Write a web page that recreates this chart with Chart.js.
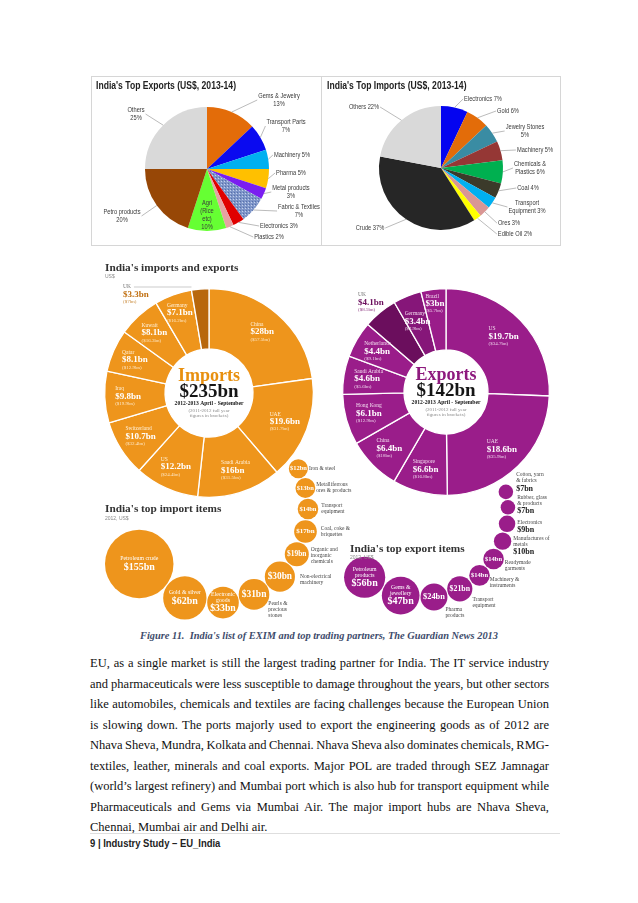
<!DOCTYPE html>
<html>
<head>
<meta charset="utf-8">
<script src="https://cdn.jsdelivr.net/npm/chart.js@4.4.0/dist/chart.umd.min.js"></script>
<style>
body { margin: 0; background: #fff; }
#page { position: relative; width: 638px; height: 903px; overflow: hidden; background: #fff; }
canvas { position: absolute; }
.box { position: absolute; border: 1px solid #d6d6d6; box-sizing: border-box; }
.t { position: absolute; white-space: nowrap; line-height: 1; transform: translateY(-50%); z-index: 5; }
.n { transform-origin: 0 50%; transform: translateY(-50%) scaleX(0.86); }
.ptitle { font: bold 10px "Liberation Sans", sans-serif; color: #222; }
.gtitle { font: bold 11.3px "Liberation Serif", "DejaVu Serif", serif; color: #333; }
.gsub { font: 5px "Liberation Sans", sans-serif; color: #888; }
#caption { left: 0; width: 638px; text-align: center; top: 635px; font: italic bold 10.4px "Liberation Serif", serif; color: #3e4c6c; }
#para { position: absolute; left: 90px; top: 653px; width: 459px; font: 12.5px/20.5px "Liberation Serif", serif; color: #111; word-spacing: -1.5px; }
#para div { white-space: nowrap; }
#para .j { text-align: justify; text-align-last: justify; white-space: normal; }
#footline { position: absolute; left: 90px; top: 833px; width: 470px; height: 1px; background: #dedede; }
#footer { left: 90px; top: 843px; font: bold 11px "Liberation Sans", sans-serif; color: #222; }
</style>
</head>
<body>
<div id="page">
  <div class="box" style="left:91px;top:76px;width:231px;height:170px"></div>
  <div class="box" style="left:321px;top:76px;width:240px;height:170px"></div>
  <canvas id="expPie" width="229" height="169" style="left:92px;top:76px"></canvas>
  <canvas id="impPie" width="239" height="169" style="left:321px;top:76px"></canvas>
  <div class="t n ptitle" style="left:96px;top:85px">India's Top Exports (US$, 2013-14)</div>
  <div class="t n ptitle" style="left:327px;top:85px">India's Top Imports (US$, 2013-14)</div>

  <canvas id="impDonut" width="470" height="370" style="left:95px;top:255px"></canvas>
  <canvas id="expDonut" width="470" height="370" style="left:95px;top:255px"></canvas>
  <canvas id="items" width="470" height="370" style="left:95px;top:255px"></canvas>
  <div class="t gtitle" style="left:105px;top:267px">India's imports and exports</div>
  <div class="t gsub" style="left:105px;top:276px">US$</div>
  <div class="t gtitle" style="left:105px;top:508px">India's top import items</div>
  <div class="t gsub" style="left:105px;top:518px">2012, US$</div>
  <div class="t gtitle" style="left:350px;top:548px">India's top export items</div>
  <div class="t gsub" style="left:350px;top:557px">2012, US$</div>

  <div id="caption" class="t">Figure 11.&nbsp; India's list of EXIM and top trading partners, The Guardian News 2013</div>
  <div id="para">
    <div class="j">EU, as a single market is still the largest trading partner for India. The IT service industry</div>
    <div class="j">and pharmaceuticals were less susceptible to damage throughout the years, but other sectors</div>
    <div class="j">like automobiles, chemicals and textiles are facing challenges because the European Union</div>
    <div class="j">is slowing down. The ports majorly used to export the engineering goods as of 2012 are</div>
    <div class="j">Nhava Sheva, Mundra, Kolkata and Chennai. Nhava Sheva also dominates chemicals, RMG-</div>
    <div class="j">textiles, leather, minerals and coal exports. Major POL are traded through SEZ Jamnagar</div>
    <div class="j">(world’s largest refinery) and Mumbai port which is also hub for transport equipment while</div>
    <div class="j">Pharmaceuticals and Gems via Mumbai Air. The major import hubs are Nhava Sheva,</div>
    <div style="word-spacing:0">Chennai, Mumbai air and Delhi air.</div>
  </div>
  <div id="footline"></div>
  <div id="footer" class="t n">9 | Industry Study – EU_India</div>
</div>

<script>
// top pies (share of total, %)
const exportLabels = ['Gems & Jewelry', 'Transport Parts', 'Machinery', 'Pharma', 'Metal products', 'Fabric & Textiles', 'Electronics', 'Plastics', 'Agri (Rice etc)', 'Petro products', 'Others']
const exportShares = [13, 7, 5, 5, 3, 7, 3, 2, 10, 20, 25]
const importLabels = ['Electronics', 'Gold', 'Jewelry Stones', 'Machinery', 'Chemicals & Plastics', 'Coal', 'Transport Equipment', 'Ores', 'Edible Oil', 'Crude', 'Others']
const importShares = [7, 6, 5, 5, 6, 4, 3, 3, 2, 37, 22]

// partners, US$ bn, 2012-13 April-September (2011-12 full year)
const importPartners = ['China', 'UAE', 'Saudi Arabia', 'US', 'Switzerland', 'Iraq', 'Qatar', 'Kuwait', 'Germany', 'UK']
const importPartnerValues = [28, 19.6, 16, 12.2, 10.7, 9.8, 8.1, 8.1, 7.1, 3.3]
const importPartnerPrev = [57.5, 31.7, 31.5, 24.4, 32.4, 19.9, 12.9, 16.3, 16.2, 7]
const importTotal = 235
const exportPartners = ['US', 'UAE', 'Singapore', 'China', 'Hong Kong', 'Saudi Arabia', 'Netherlands', 'UK', 'Germany', 'Brazil']
const exportPartnerValues = [19.7, 18.6, 6.6, 6.4, 6.1, 4.6, 4.4, 4.1, 3.4, 3]
const exportPartnerPrev = [34.7, 35.9, 16.8, 18, 12.9, 5.6, 9.1, 8.5, 7.9, 5.7]
const exportTotal = 142

// top items 2012, US$ bn
const importItems = ['Iron & steel', 'Metalliferrous ores & products', 'Transport equipment', 'Coal, coke & briquettes', 'Organic and inorganic chemicals', 'Non-electrical machinery', 'Pearls & precious stones', 'Electronic goods', 'Gold & silver', 'Petroleum crude']
const importItemValues = [12, 13, 14, 17, 19, 30, 31, 33, 62, 155]
const exportItems = ['Cotton, yarn & fabrics', 'Rubber, glass & products', 'Electronics', 'Manufactures of metals', 'Readymade garments', 'Machinery & instruments', 'Transport equipment', 'Pharma products', 'Gems & jewellery', 'Petroleum products']
const exportItemValues = [7, 7, 9, 10, 14, 14, 21, 24, 47, 56]

const serif = '"Liberation Serif", "DejaVu Serif", serif'
const sans = '"Liberation Sans", sans-serif'

// fabric slice texture
const pat = document.createElement('canvas')
pat.width = 3; pat.height = 3
const pc = pat.getContext('2d')
pc.fillStyle = '#7f96c9'; pc.fillRect(0, 0, 3, 3)
pc.fillStyle = '#c3d0ec'; pc.fillRect(0, 0, 1, 1)
pc.fillStyle = '#566fab'; pc.fillRect(1, 2, 1, 1)
const fabric = pc.createPattern(pat, 'repeat')

const exportColors = ['#e36c09', '#0a0af0', '#00b0f0', '#ffc000', '#7a1ef0', fabric, '#e00000', '#e6a3a3', '#66ff33', '#974706', '#d9d9d9']
const importColors = ['#0404f0', '#e36c09', '#3a8ca3', '#953735', '#00b050', '#3b3a2a', '#00b0f0', '#d99694', '#ffff00', '#262626', '#d9d9d9']

// label placement around the pies (offsets from pie centre)
const exportPieText = [
    { dx: 72, dy: -73, lines: ['Gems & Jewelry', '{v}%'] },
    { dx: 79, dy: -47, lines: ['Transport Parts', '{v}%'] },
    { dx: 85, dy: -14, lines: ['Machinery {v}%'] },
    { dx: 84, dy: 4, lines: ['Pharma {v}%'] },
    { dx: 84, dy: 19, lines: ['Metal products', '{v}%'] },
    { dx: 92, dy: 38, lines: ['Fabric & Textiles', '{v}%'] },
    { dx: 72, dy: 57, lines: ['Electronics {v}%'] },
    { dx: 62, dy: 68, lines: ['Plastics {v}%'] },
    { dx: 0, dy: 34, lines: ['Agri', '(Rice', 'etc)', '{v}%'], leader: false },
    { dx: -85, dy: 43, lines: ['Petro products', '{v}%'] },
    { dx: -71, dy: -59, lines: ['Others', '{v}%'] }
]
const importPieText = [
    { dx: 42, dy: -69, lines: ['Electronics {v}%'] },
    { dx: 67, dy: -57, lines: ['Gold {v}%'] },
    { dx: 84, dy: -41, lines: ['Jewelry Stones', '{v}%'] },
    { dx: 94, dy: -18, lines: ['Machinery {v}%'] },
    { dx: 89, dy: -4, lines: ['Chemicals &', 'Plastics {v}%'] },
    { dx: 87, dy: 20, lines: ['Coal {v}%'] },
    { dx: 86, dy: 35, lines: ['Transport', 'Equipment {v}%'] },
    { dx: 68, dy: 55, lines: ['Ores {v}%'] },
    { dx: 74, dy: 66, lines: ['Edible Oil {v}%'] },
    { dx: -71, dy: 60, lines: ['Crude {v}%'] },
    { dx: -77, dy: -61, lines: ['Others {v}%'] }
]

const squeeze = 0.84

function pieText(items) {
    return {
        id: 'pieText',
        afterDatasetsDraw(chart) {
            const ctx = chart.ctx
            const meta = chart.getDatasetMeta(0)
            const vals = chart.data.datasets[0].data
            const cx = meta.data[0].x, cy = meta.data[0].y
            const lh = 8
            ctx.save()
            ctx.font = `6.8px ${sans}`
            ctx.textAlign = 'center'
            ctx.textBaseline = 'middle'
            items.forEach((it, i) => {
                const arc = meta.data[i]
                const lines = it.lines.map(s => s.replace('{v}', vals[i]))
                const x = cx + it.dx, y = cy + it.dy
                const w = squeeze * Math.max(...lines.map(s => ctx.measureText(s).width))
                if (it.leader !== false) {
                    const mid = (arc.startAngle + arc.endAngle) / 2
                    const ex = cx + Math.cos(mid) * arc.outerRadius
                    const ey = cy + Math.sin(mid) * arc.outerRadius
                    const sx = x < cx ? x + w / 2 + 1 : x - w / 2 - 1
                    const sy = y + (lines.length - 1) * lh / 2
                    ctx.strokeStyle = '#a9a9a9'
                    ctx.lineWidth = 0.8
                    ctx.beginPath(); ctx.moveTo(sx, sy); ctx.lineTo(ex, ey); ctx.stroke()
                }
                ctx.fillStyle = '#3a3a3a'
                lines.forEach((s, j) => {
                    ctx.save()
                    ctx.translate(x, y + j * lh)
                    ctx.scale(squeeze, 1)
                    ctx.fillText(s, 0, 0)
                    ctx.restore()
                })
            })
            ctx.restore()
        }
    }
}

function makePie(id, labels, data, colors, pad, items) {
    new Chart(document.getElementById(id), {
        type: 'pie',
        data: { labels: labels, datasets: [{ data: data, backgroundColor: colors, borderWidth: 0 }] },
        options: {
            responsive: false,
            animation: false,
            events: [],
            layout: { padding: pad },
            plugins: { legend: { display: false }, tooltip: { enabled: false } }
        },
        plugins: [pieText(items)]
    })
}

makePie('expPie', exportLabels, exportShares, exportColors, { left: 53, right: 52, top: 31, bottom: 14 }, exportPieText)
makePie('impPie', importLabels, importShares, importColors, { left: 58, right: 57, top: 30, bottom: 15 }, importPieText)

// donuts
const fmt = v => '$' + v + 'bn'

function donutText(cfg) {
    return {
        id: 'donutText',
        afterDatasetsDraw(chart) {
            const ctx = chart.ctx
            const meta = chart.getDatasetMeta(0)
            const vals = chart.data.datasets[0].data
            const names = chart.data.labels
            const cx = meta.data[0].x, cy = meta.data[0].y
            ctx.save()
            ctx.textBaseline = 'middle'
            ctx.textAlign = 'left'
            meta.data.forEach((arc, i) => {
                const mid = (arc.startAngle + arc.endAngle) / 2
                const val = fmt(vals[i])
                const prev = '(' + fmt(cfg.prev[i]) + ')'
                ctx.font = `bold 9px ${serif}`
                const wv = ctx.measureText(val).width
                const o = cfg.outside[i]
                let x, y, col = cfg.inColors
                if (o) {
                    x = cx + o.dx; y = cy + o.dy + 7.5; col = cfg.outColors
                } else {
                    const r = cfg.radii[i] || cfg.labelR
                    x = cx + Math.cos(mid) * r - wv / 2
                    y = cy + Math.sin(mid) * r
                }
                ctx.font = `5.5px ${serif}`
                ctx.fillStyle = col[0]
                ctx.fillText(names[i], x, y - 7.5)
                if (o && o.leader) {
                    const nw = ctx.measureText(names[i]).width
                    const ex = cx + Math.cos(arc.startAngle) * arc.outerRadius
                    ctx.strokeStyle = '#b5b5b5'; ctx.lineWidth = 0.7
                    ctx.beginPath(); ctx.moveTo(x + nw + 3, y - 7.5); ctx.lineTo(ex, y - 7.5); ctx.stroke()
                }
                ctx.font = `bold 9px ${serif}`
                ctx.fillStyle = col[1]
                ctx.fillText(val, x, y)
                ctx.font = `5px ${serif}`
                ctx.fillStyle = col[2]
                ctx.fillText(prev, x, y + 7.5)
            })
            // centre
            ctx.textAlign = 'center'
            ctx.fillStyle = cfg.accent
            ctx.font = `bold 18px ${serif}`
            ctx.fillText(cfg.title, cx, cy - 17)
            ctx.fillStyle = '#151515'
            ctx.font = `bold 19px ${serif}`
            ctx.fillText(fmt(cfg.total), cx, cy - 1)
            ctx.font = `bold 5.6px ${serif}`
            ctx.fillText('2012-2013 April - September', cx, cy + 11)
            ctx.fillStyle = '#8a8a8a'
            ctx.font = `5px ${serif}`
            ctx.fillText('(2011-2012 full year', cx, cy + 17.5)
            ctx.fillText('figures in brackets)', cx, cy + 23)
            ctx.restore()
        }
    }
}

function makeDonut(id, labels, data, colors, pad, cutout, cfg) {
    new Chart(document.getElementById(id), {
        type: 'doughnut',
        data: { labels: labels, datasets: [{ data: data, backgroundColor: colors, borderColor: '#ffffff', borderWidth: 1.3 }] },
        options: {
            responsive: false,
            animation: false,
            events: [],
            cutout: cutout,
            layout: { padding: pad },
            plugins: { legend: { display: false }, tooltip: { enabled: false } }
        },
        plugins: [donutText(cfg)]
    })
}

const orange = '#ee951c'
const purple = '#9a1d8a'
makeDonut('impDonut', importPartners, importPartnerValues,
    importPartners.map(p => p === 'UK' ? '#b8670c' : orange),
    { left: 9, right: 251, top: 33, bottom: 127 }, 44, {
        prev: importPartnerPrev, total: importTotal, title: 'Imports', accent: '#e8900f',
        labelR: 81, radii: { 8: 85 },
        outside: { 9: { dx: -86, dy: -106, leader: true } },
        inColors: ['#fff2dc', '#ffffff', '#fde6c4'], outColors: ['#777777', '#c06f10', '#c98a3a']
    })
makeDonut('expDonut', exportPartners, exportPartnerValues,
    exportPartners.map(p => p === 'UK' ? '#6b0e5d' : p === 'Germany' ? '#861679' : purple),
    { left: 247, right: 15, top: 33, bottom: 129 }, 42, {
        prev: exportPartnerPrev, total: exportTotal, title: 'Exports', accent: '#8e1a7e',
        labelR: 80, radii: { 8: 76, 9: 89 },
        outside: { 7: { dx: -88, dy: -97 } },
        inColors: ['#f3dcef', '#ffffff', '#eed0ea'], outColors: ['#777777', '#6b0e5d', '#8e3a82']
    })

// bubble chains: touching circles laid along an arc, radius from sqrt(value)
function chainLayout(values, cx, cy, R, startDeg, k, gap) {
    const rs = values.map(v => k * Math.sqrt(v))
    let a = startDeg * Math.PI / 180
    return rs.map((r, i) => {
        if (i > 0) a += 2 * Math.asin((rs[i - 1] + r + gap) / (2 * R))
        return { x: cx + R * Math.cos(a), y: cy + R * Math.sin(a), r: r }
    })
}

const importItemText = [
    { out: ['Iron & steel'], dx: 1, dy: 0 },
    { out: ['Metalliferrous', 'ores & products'], dx: 1, dy: 0 },
    { out: ['Transport', 'equipment'], dx: 3, dy: 0 },
    { out: ['Coal, coke &', 'briquettes'], dx: 4, dy: 0 },
    { out: ['Organic and', 'inorganic', 'chemicals'], dx: 2, dy: 1 },
    { out: ['Non-electrical', 'machinery'], dx: 5, dy: 3 },
    { out: ['Pearls &', 'precious', 'stones'], dx: -1, dy: 15 },
    { inner: ['Electronic', 'goods'] },
    { inner: ['Gold & silver'] },
    { inner: ['Petroleum crude'] }
]
const exportItemText = [
    { out: ['Cotton, yarn', '& fabrics'], valOut: true, dx: 3, dy: -10 },
    { out: ['Rubber, glass', '& products'], valOut: true, dx: 2, dy: -3 },
    { out: ['Electronics'], valOut: true, dx: 2, dy: 3 },
    { out: ['Manufactures of', 'metals'], valOut: true, dx: 2, dy: 4 },
    { out: ['Readymade', 'garments'], dx: 1, dy: 7 },
    { out: ['Machinery &', 'instruments'], dx: 0, dy: 7 },
    { out: ['Transport', 'equipment'], dx: 0, dy: 14 },
    { out: ['Pharma', 'products'], dx: -2, dy: 16 },
    { inner: ['Gems &', 'jewellery'] },
    { inner: ['Petroleum', 'products'] }
]

function bubbleText(values, layouts) {
    return {
        id: 'bubbleText',
        afterDatasetsDraw(chart) {
            const ctx = chart.ctx
            ctx.save()
            ctx.textBaseline = 'middle'
            chart.data.datasets.forEach((ds, d) => {
                chart.getDatasetMeta(d).data.forEach((pt, i) => {
                    const L = layouts[d][i]
                    const r = ds.data[i].r
                    const val = fmt(values[d][i])
                    const vs = Math.min(10, Math.max(6.5, r * 0.62))
                    const lh = 6
                    if (!L.valOut) {
                        const names = L.inner || []
                        let y = pt.y - (names.length * lh + vs) / 2 + lh / 2
                        ctx.textAlign = 'center'
                        ctx.fillStyle = '#ffffff'
                        ctx.font = `5.8px ${serif}`
                        names.forEach(s => { ctx.fillText(s, pt.x, y); y += lh })
                        ctx.font = `bold ${vs}px ${serif}`
                        ctx.fillText(val, pt.x, y - lh / 2 + vs / 2)
                    }
                    if (L.out) {
                        const n = L.out.length + (L.valOut ? 1.3 : 0)
                        let y = pt.y + L.dy - (n - 1) * lh / 2
                        const x = pt.x + r + L.dx
                        ctx.textAlign = 'left'
                        ctx.fillStyle = '#444444'
                        ctx.font = `5.5px ${serif}`
                        L.out.forEach(s => { ctx.fillText(s, x, y); y += lh })
                        if (L.valOut) {
                            ctx.fillStyle = '#222222'
                            ctx.font = `bold 8px ${serif}`
                            ctx.fillText(val, x, y + 1.5)
                        }
                    }
                })
            })
            ctx.restore()
        }
    }
}

new Chart(document.getElementById('items'), {
    type: 'bubble',
    data: {
        datasets: [{
            label: 'Top import items',
            data: chainLayout(importItemValues, 215, 510, 93, -26.3, 2.75, 1),
            backgroundColor: orange,
            borderWidth: 0,
            clip: false
        }, {
            label: 'Top export items',
            data: chainLayout(exportItemValues, 421, 511, 87, -12.7, 2.75, 1),
            backgroundColor: purple,
            borderWidth: 0,
            clip: false
        }]
    },
    options: {
        responsive: false,
        animation: false,
        events: [],
        layout: { autoPadding: false, padding: 0 },
        scales: {
            x: { type: 'linear', min: 95, max: 565, display: false },
            y: { type: 'linear', min: 255, max: 625, reverse: true, display: false }
        },
        plugins: { legend: { display: false }, tooltip: { enabled: false } }
    },
    plugins: [bubbleText([importItemValues, exportItemValues], [importItemText, exportItemText])]
})
</script>
</body>
</html>
